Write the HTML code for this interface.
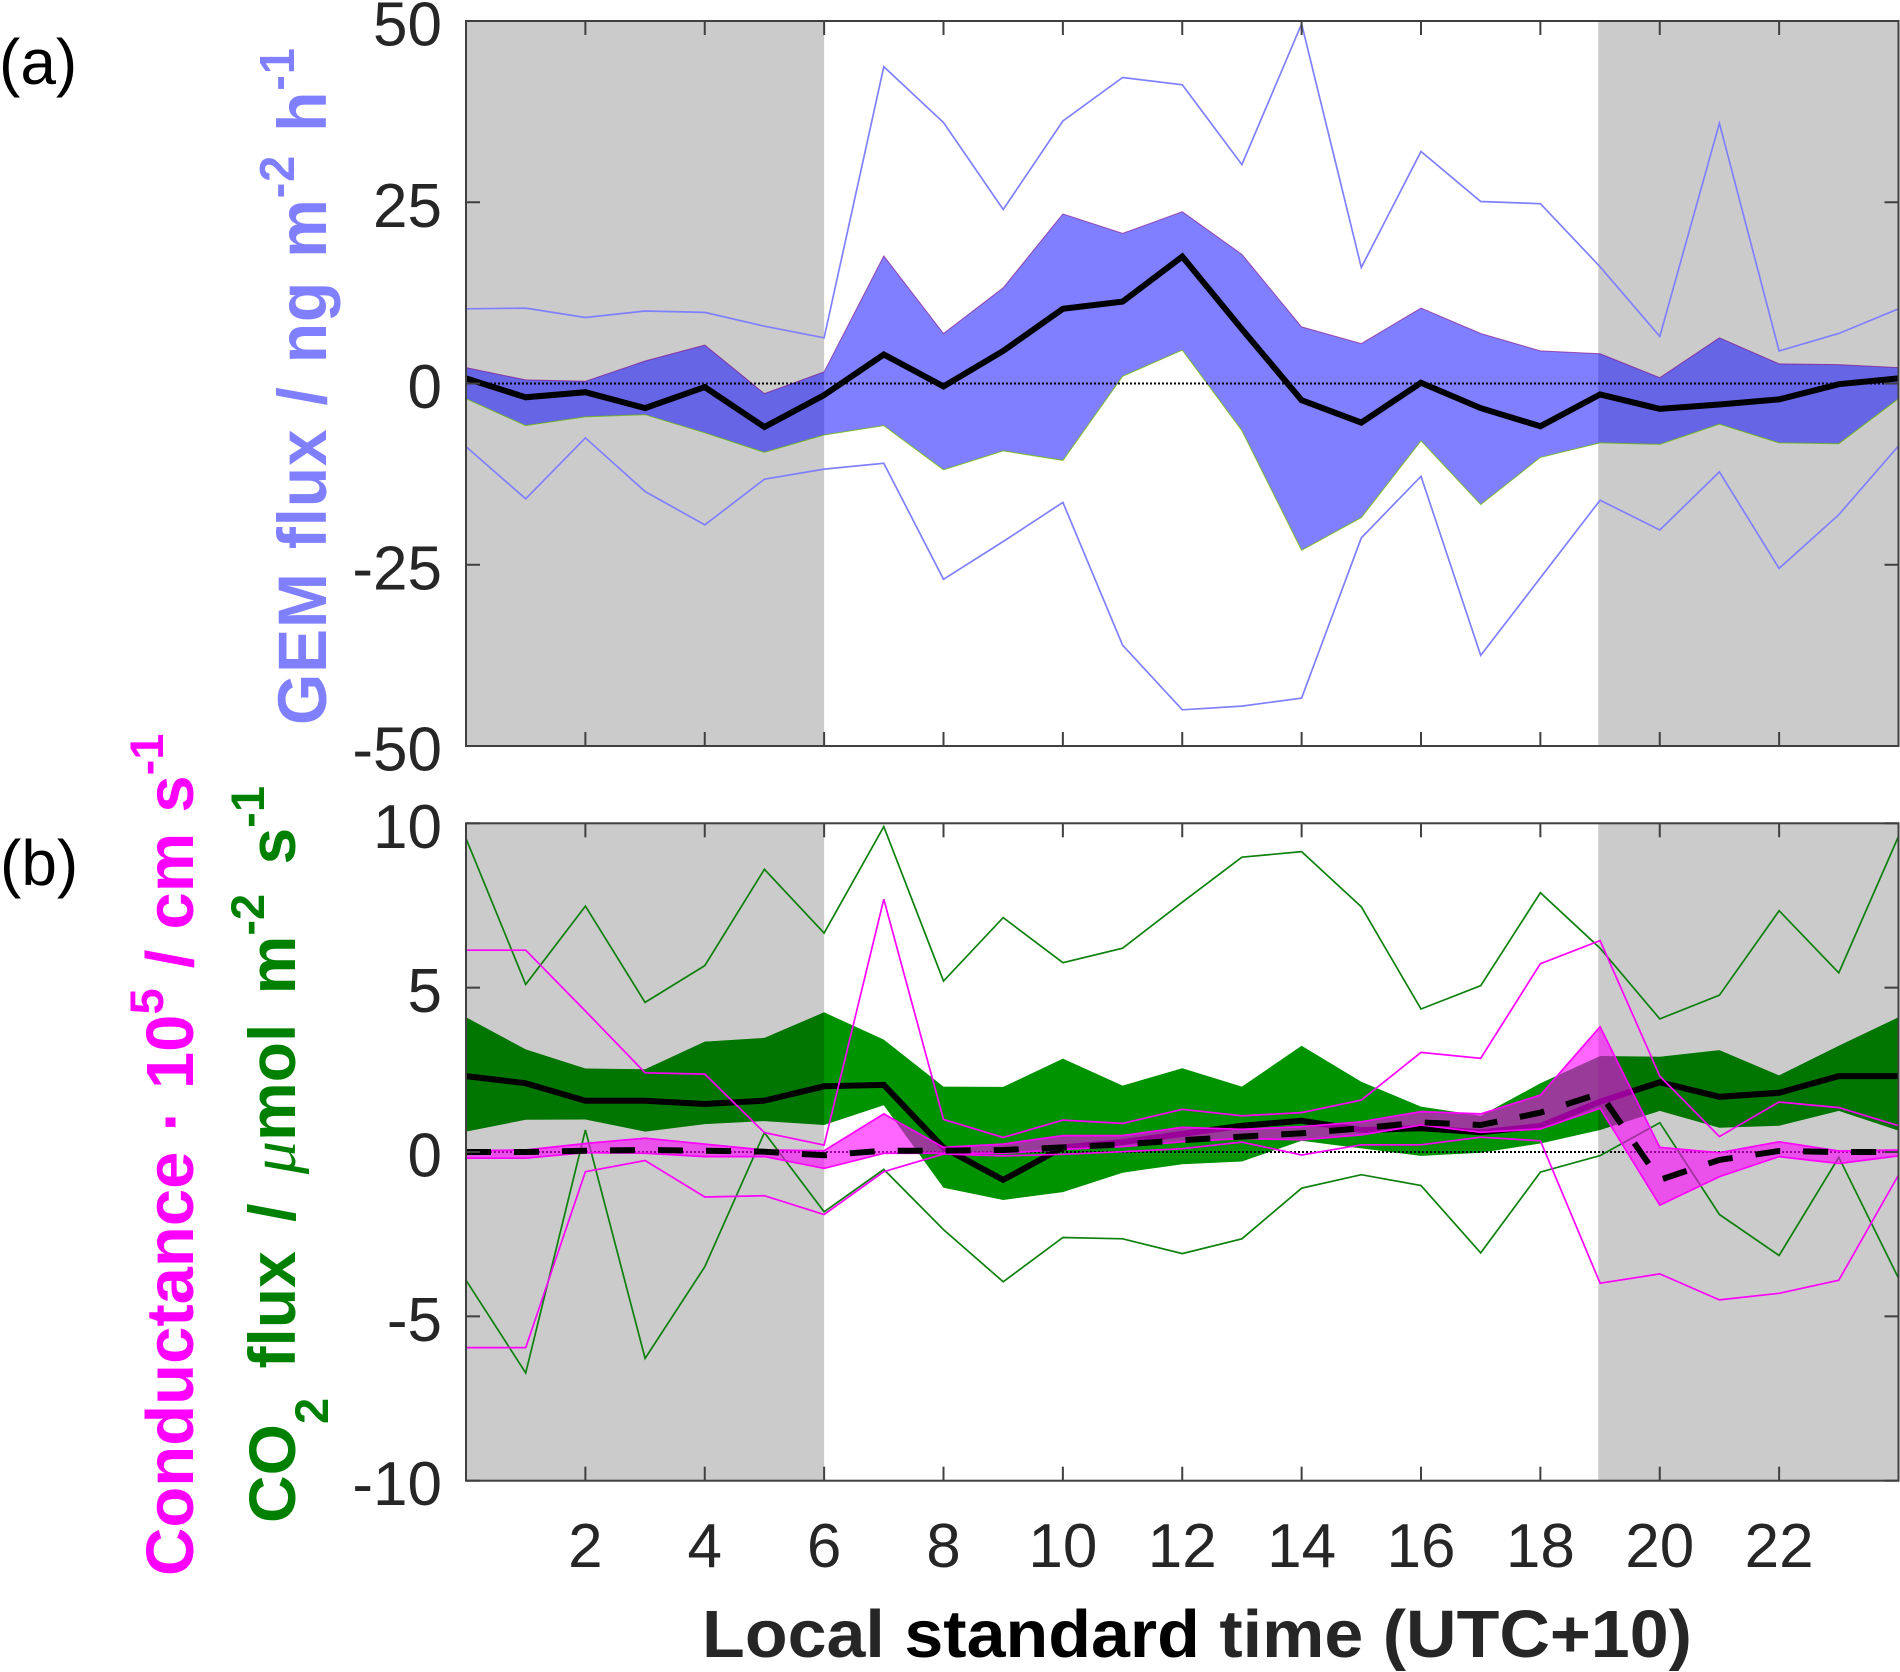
<!DOCTYPE html>
<html lang="en">
<head>
<meta charset="utf-8">
<title>GEM flux, CO2 flux and conductance by hour</title>
<style>
html,body{margin:0;padding:0;background:#fff;}
svg{display:block;font-family:"Liberation Sans",Arial,sans-serif;}
</style>
</head>
<body>
<svg id="chart" xmlns="http://www.w3.org/2000/svg" width="1900" height="1672" viewBox="0 0 1900 1672">
  <rect x="0" y="0" width="1900" height="1672" fill="#fff"/>
  <g id="panelA"></g>
  <g id="panelB"></g>
  <text x="-1" y="84" font-size="64" fill="#000">(a)</text>
  <text x="0" y="885" font-size="64" fill="#000">(b)</text>
  <text transform="translate(326,725) rotate(-90) scale(1,1.04)" font-size="66" font-weight="bold" fill="#8080ff" xml:space="preserve" word-spacing="4" letter-spacing="0.8">GEM flux / ng m<tspan font-size="47" dy="-31">-2</tspan><tspan dy="31"> h</tspan><tspan font-size="47" dy="-31">-1</tspan></text>
  <text transform="translate(193,1576) rotate(-90)" font-size="67" font-weight="bold" fill="#ff00ff" xml:space="preserve" word-spacing="1.5">Conductance · 10<tspan font-size="47" dy="-30">5</tspan><tspan dy="30"> / cm s</tspan><tspan font-size="47" dy="-30">-1</tspan></text>
  <text transform="translate(295,1523) rotate(-90)" font-size="66" font-weight="bold" fill="#008000" xml:space="preserve" word-spacing="11">CO<tspan font-size="47" dy="33">2</tspan><tspan dy="-33"> flux / </tspan><tspan font-family="'Liberation Serif',serif" font-style="italic" font-weight="normal">μ</tspan>mol m<tspan font-size="47" dy="-31">-2</tspan><tspan dy="31"> s</tspan><tspan font-size="47" dy="-31">-1</tspan></text>
  <text transform="translate(1197,1657) scale(1,0.96)" text-anchor="middle" font-size="70" font-weight="bold" fill="#262626">Local <tspan fill="#000">standard</tspan> time (UTC+10)</text>
</svg>
<script>
// Hour of day
const hours = [0,1,2,3,4,5,6,7,8,9,10,11,12,13,14,15,16,17,18,19,20,21,22,23,24];
const xTicks = [2,4,6,8,10,12,14,16,18,20,22];
const nightSpans = [[0,6],[18.97,24]];
const yTicksA = [50,25,0,-25,-50];
const yTicksB = [10,5,0,-5,-10];

// Panel (a): GEM flux
const gemMax = [10.3,10.4,9.1,10.0,9.8,7.9,6.3,43.7,36.0,24.0,36.2,42.2,41.2,30.2,49.6,16.0,32.0,25.1,24.8,16.1,6.5,35.9,4.5,6.9,10.3];
const gemMin = [-8.7,-15.9,-7.5,-14.9,-19.5,-13.2,-11.8,-11.0,-27.0,-21.8,-16.4,-36.1,-45.0,-44.5,-43.4,-21.3,-12.8,-37.5,-26.8,-16.1,-20.2,-12.2,-25.5,-18.1,-8.6];
const gemUpper = [2.2,0.5,0.3,3.1,5.3,-1.4,1.6,17.6,6.9,13.2,23.4,20.7,23.7,17.8,7.8,5.5,10.4,6.9,4.5,4.1,0.8,6.3,2.7,2.6,2.2];
const gemLower = [-2.1,-5.8,-4.6,-4.3,-6.8,-9.5,-7.1,-5.8,-11.9,-9.3,-10.6,1.0,4.6,-6.5,-23.0,-18.5,-7.9,-16.7,-10.2,-8.2,-8.4,-5.6,-8.2,-8.3,-2.1];
const gemMean = [0.7,-1.9,-1.2,-3.4,-0.5,-6.0,-1.6,4.0,-0.4,4.5,10.3,11.3,17.5,7.5,-2.3,-5.4,0.1,-3.4,-5.9,-1.5,-3.5,-2.9,-2.2,-0.1,0.7];

// Panel (b): CO2 flux
const co2Max = [9.54,5.1,7.48,4.55,5.67,8.6,6.66,9.9,5.2,7.13,5.76,6.2,7.6,8.97,9.14,7.46,4.35,5.06,7.89,6.2,4.05,4.77,7.34,5.45,9.6];
const co2Min = [-3.9,-6.72,0.67,-6.28,-3.49,0.59,-1.82,-0.53,-2.36,-3.95,-2.6,-2.64,-3.09,-2.64,-1.1,-0.69,-1.02,-3.07,-0.61,-0.11,0.89,-1.9,-3.15,-0.16,-3.84];
const co2Upper = [4.1,3.12,2.54,2.52,3.36,3.47,4.25,3.42,1.99,1.98,2.84,2.02,2.55,1.99,3.23,2.14,1.38,1.1,2.09,2.92,2.9,3.1,2.33,3.23,4.1];
const co2Lower = [0.62,0.98,0.99,0.62,0.85,0.94,0.82,1.42,-1.09,-1.46,-1.22,-0.63,-0.37,-0.29,0.34,0.11,-0.12,-0.02,0.26,0.67,1.25,0.74,0.8,1.25,0.65];
const co2Mean = [2.31,2.09,1.56,1.56,1.46,1.56,2.0,2.04,0.13,-0.85,0.14,0.3,0.55,0.8,0.95,0.67,0.72,0.6,0.79,1.53,2.12,1.68,1.8,2.31,2.31];

// Panel (b): conductance
const condMax = [6.14,6.14,4.29,2.41,2.37,0.59,0.21,7.69,0.99,0.44,0.97,0.87,1.3,1.1,1.2,1.58,3.03,2.85,5.73,6.43,2.31,0.47,1.52,1.35,0.8];
const condMin = [-5.95,-5.95,-0.6,-0.26,-1.37,-1.33,-1.9,-0.6,-0.06,-0.12,-0.07,0.01,0.1,0.3,-0.09,0.22,0.22,0.45,0.34,-3.99,-3.71,-4.5,-4.3,-3.9,-0.7];
const condUpper = [0.04,0.06,0.26,0.42,0.24,0.06,0.04,1.16,0.14,0.24,0.5,0.5,0.75,0.69,0.77,0.92,1.23,1.16,1.73,3.81,0.14,-0.02,0.31,0.03,0.06];
const condLower = [-0.19,-0.19,-0.02,-0.04,-0.14,-0.14,-0.5,-0.04,-0.04,-0.04,0.08,0.16,0.31,0.41,0.37,0.52,0.82,0.6,0.7,1.33,-1.62,-0.75,-0.14,-0.35,-0.12];
const condMean = [0,0,0.04,0.06,0.04,0.01,-0.1,0.04,0.04,0.06,0.14,0.23,0.36,0.47,0.57,0.72,0.9,0.82,1.2,1.78,-0.85,-0.24,0.03,0,0];

const NS = 'http://www.w3.org/2000/svg';
const plotLeft = 466, plotRight = 1898.5;
const xScale = h => plotLeft + (plotRight - plotLeft) * h / 24;
const yScaleA = v => 383.5 - (v / 50) * 362.5;
const yScaleB = v => 1152 - (v / 10) * 328.7;

function make(parent, tag, attrs, name) {
  const el = document.createElementNS(NS, tag);
  for (const k in attrs) el.setAttribute(k, attrs[k]);
  
  
  parent.appendChild(el);
  return el;
}
function pts(values, yScale) {
  return values.map((v, i) => xScale(hours[i]).toFixed(1) + ',' + yScale(v).toFixed(1));
}
function line(parent, values, yScale, style, name) {
  return make(parent, 'polyline', Object.assign({ points: pts(values, yScale).join(' '), fill: 'none', 'stroke-linejoin': 'miter' }, style), name);
}
function band(parent, upper, lower, yScale, style, name) {
  const d = pts(upper, yScale).concat(pts(lower, yScale).reverse()).join(' ');
  return make(parent, 'polygon', Object.assign({ points: d }, style), name);
}
function night(parent, yScale, top, bottom) {
  nightSpans.forEach(s => {
    make(parent, 'rect', { x: xScale(s[0]), y: yScale(top), width: xScale(s[1]) - xScale(s[0]), height: yScale(bottom) - yScale(top), fill: '#cbcbcb' }, 'night-shading');
  });
}
function axes(parent, yScale, yTicks, showX) {
  const top = yScale(yTicks[0]), bottom = yScale(yTicks[yTicks.length - 1]);
  const stroke = { stroke: '#404040', 'stroke-width': 2 };
  xTicks.forEach(t => {
    const x = xScale(t);
    make(parent, 'line', Object.assign({ x1: x, x2: x, y1: top, y2: top + 14 }, stroke), 'x-tick-top');
    make(parent, 'line', Object.assign({ x1: x, x2: x, y1: bottom, y2: bottom - 14 }, stroke), 'x-tick-bottom');
    if (showX) {
      const lb = make(parent, 'text', { x: x, y: 1567, 'text-anchor': 'middle', 'font-size': 62, fill: '#262626' }, 'x-tick-label');
      lb.textContent = t;
    }
  });
  yTicks.forEach(t => {
    const y = yScale(t);
    make(parent, 'line', Object.assign({ x1: plotLeft, x2: plotLeft + 14, y1: y, y2: y }, stroke), 'y-tick-left');
    make(parent, 'line', Object.assign({ x1: plotRight, x2: plotRight - 14, y1: y, y2: y }, stroke), 'y-tick-right');
    const lb = make(parent, 'text', { x: 442, y: y + 24.5, 'text-anchor': 'end', 'font-size': 62, fill: '#262626' }, 'y-tick-label');
    lb.textContent = t;
  });
  make(parent, 'rect', Object.assign({ x: plotLeft, y: top, width: plotRight - plotLeft, height: bottom - top, fill: 'none' }, stroke), 'axes-frame');
}
function zero(parent, yScale) {
  make(parent, 'line', { x1: plotLeft, x2: plotRight, y1: yScale(0), y2: yScale(0), stroke: '#000', 'stroke-width': 2, 'stroke-dasharray': '2 2' }, 'zero-line');
}

// Panel (a)
const A = document.getElementById('panelA');
night(A, yScaleA, 50, -50);
band(A, gemUpper, gemLower, yScaleA, { fill: 'rgba(0,0,255,0.5)' }, 'gem-iqr-band');
line(A, gemUpper, yScaleA, { stroke: 'rgba(128,0,128,0.6)', 'stroke-width': 1 }, 'gem-band-upper-edge');
line(A, gemLower, yScaleA, { stroke: 'rgba(110,190,0,0.8)', 'stroke-width': 1 }, 'gem-band-lower-edge');
line(A, gemMax, yScaleA, { stroke: '#8080ff', 'stroke-width': 1.7 }, 'gem-upper-line');
line(A, gemMin, yScaleA, { stroke: '#8080ff', 'stroke-width': 1.7 }, 'gem-lower-line');
zero(A, yScaleA);
line(A, gemMean, yScaleA, { stroke: '#000', 'stroke-width': 6 }, 'gem-mean-line');
axes(A, yScaleA, yTicksA, false);

// Panel (b)
const B = document.getElementById('panelB');
night(B, yScaleB, 10, -10);
band(B, co2Upper, co2Lower, yScaleB, { fill: '#009300', style: 'mix-blend-mode:multiply' }, 'co2-iqr-band');
zero(B, yScaleB);
line(B, co2Max, yScaleB, { stroke: '#0d800d', 'stroke-width': 1.7 }, 'co2-upper-line');
line(B, co2Min, yScaleB, { stroke: '#0d800d', 'stroke-width': 1.7 }, 'co2-lower-line');
line(B, co2Mean, yScaleB, { stroke: '#000', 'stroke-width': 6 }, 'co2-mean-line');
band(B, condUpper, condLower, yScaleB, { fill: 'rgba(255,0,255,0.6)' }, 'conductance-iqr-band');
line(B, condUpper, yScaleB, { stroke: '#ff00ff', 'stroke-width': 1.7 }, 'conductance-band-upper-edge');
line(B, condLower, yScaleB, { stroke: '#ff00ff', 'stroke-width': 1.7 }, 'conductance-band-lower-edge');
line(B, condMax, yScaleB, { stroke: '#ff00ff', 'stroke-width': 1.7 }, 'conductance-upper-line');
line(B, condMin, yScaleB, { stroke: '#ff00ff', 'stroke-width': 1.7 }, 'conductance-lower-line');
line(B, condMean, yScaleB, { stroke: '#000', 'stroke-width': 6, 'stroke-dasharray': '25 23' }, 'conductance-mean-line');
axes(B, yScaleB, yTicksB, true);
</script>
</body>
</html>
